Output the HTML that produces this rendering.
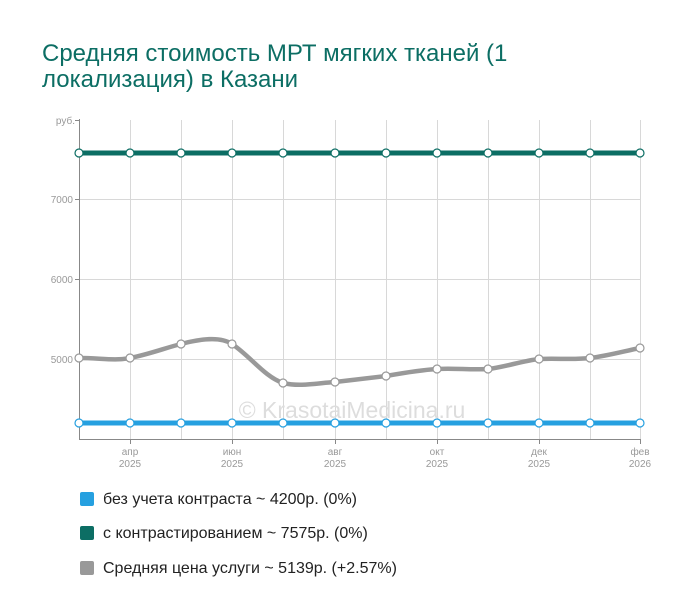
<!DOCTYPE html>
<html><head><meta charset="utf-8"><style>
body{margin:0;background:#fff;width:700px;height:616px;overflow:hidden;font-family:"Liberation Sans",sans-serif}
.t{position:absolute;left:42px;top:41px;font-size:24px;line-height:26px;color:#0c6e64}
.lg{position:absolute;left:80px;font-size:16px;color:#222}
.lg span{display:inline-block;width:14px;height:14px;border-radius:2px;vertical-align:-2px;margin-right:9px}
</style></head><body>
<div class="t">Средняя стоимость МРТ мягких тканей (1<br>локализация) в Казани</div>
<svg width="700" height="616" style="position:absolute;left:0;top:0">
<g stroke="#d8d8d8" stroke-width="1">
<line x1="79" y1="199.5" x2="640" y2="199.5"/><line x1="79" y1="279.5" x2="640" y2="279.5"/><line x1="79" y1="359.5" x2="640" y2="359.5"/>
<line x1="130.5" y1="120" x2="130.5" y2="439"/><line x1="181.5" y1="120" x2="181.5" y2="439"/><line x1="232.5" y1="120" x2="232.5" y2="439"/><line x1="283.5" y1="120" x2="283.5" y2="439"/><line x1="335.5" y1="120" x2="335.5" y2="439"/><line x1="386.5" y1="120" x2="386.5" y2="439"/><line x1="437.5" y1="120" x2="437.5" y2="439"/><line x1="488.5" y1="120" x2="488.5" y2="439"/><line x1="539.5" y1="120" x2="539.5" y2="439"/><line x1="590.5" y1="120" x2="590.5" y2="439"/><line x1="640.5" y1="120" x2="640.5" y2="439"/>
</g>
<g stroke="#888" stroke-width="1">
<line x1="79.5" y1="119" x2="79.5" y2="439"/><line x1="79" y1="439.5" x2="641" y2="439.5"/>
<line x1="75" y1="120.5" x2="80" y2="120.5"/><line x1="75" y1="199.5" x2="80" y2="199.5"/><line x1="75" y1="279.5" x2="80" y2="279.5"/><line x1="75" y1="359.5" x2="80" y2="359.5"/>
<line x1="130.5" y1="439" x2="130.5" y2="444"/><line x1="232.5" y1="439" x2="232.5" y2="444"/><line x1="335.5" y1="439" x2="335.5" y2="444"/><line x1="437.5" y1="439" x2="437.5" y2="444"/><line x1="539.5" y1="439" x2="539.5" y2="444"/><line x1="640.5" y1="439" x2="640.5" y2="444"/>
</g>
<g font-size="10" fill="#999" text-anchor="end">
<text x="75" y="124">руб.</text><text x="73" y="203">7000</text><text x="73" y="283">6000</text><text x="73" y="363">5000</text>
</g>
<g font-size="10" fill="#999" text-anchor="middle">
<text x="130" y="455">апр</text><text x="130" y="467">2025</text>
<text x="232" y="455">июн</text><text x="232" y="467">2025</text>
<text x="335" y="455">авг</text><text x="335" y="467">2025</text>
<text x="437" y="455">окт</text><text x="437" y="467">2025</text>
<text x="539" y="455">дек</text><text x="539" y="467">2025</text>
<text x="640" y="455">фев</text><text x="640" y="467">2026</text>
</g>
<text x="352" y="418" font-size="23" fill="#ddd" text-anchor="middle">© KrasotaiMedicina.ru</text>
<line x1="79" y1="153" x2="640" y2="153" stroke="#0c6e64" stroke-width="5"/>
<line x1="79" y1="423" x2="640" y2="423" stroke="#26a0e0" stroke-width="5"/>
<path d="M79,358 C100,358 115,361 130,358 C150,354 165,348 181,344 C200,339 220,336 232,344 C250,356 265,377 283,383 C300,387 318,383 335,382 C352,380 370,378 386,376 C403,373 420,370 437,369 C455,368 470,370 488,369 C505,367 522,361 539,359 C556,358 573,360 590,358 C607,356 625,351 640,348" fill="none" stroke="#999" stroke-width="4.5"/>
<g fill="#fff" stroke-width="1.2">
<g stroke="#0c6e64"><circle cx="79" cy="153" r="4"/><circle cx="130" cy="153" r="4"/><circle cx="181" cy="153" r="4"/><circle cx="232" cy="153" r="4"/><circle cx="283" cy="153" r="4"/><circle cx="335" cy="153" r="4"/><circle cx="386" cy="153" r="4"/><circle cx="437" cy="153" r="4"/><circle cx="488" cy="153" r="4"/><circle cx="539" cy="153" r="4"/><circle cx="590" cy="153" r="4"/><circle cx="640" cy="153" r="4"/></g>
<g stroke="#26a0e0"><circle cx="79" cy="423" r="4"/><circle cx="130" cy="423" r="4"/><circle cx="181" cy="423" r="4"/><circle cx="232" cy="423" r="4"/><circle cx="283" cy="423" r="4"/><circle cx="335" cy="423" r="4"/><circle cx="386" cy="423" r="4"/><circle cx="437" cy="423" r="4"/><circle cx="488" cy="423" r="4"/><circle cx="539" cy="423" r="4"/><circle cx="590" cy="423" r="4"/><circle cx="640" cy="423" r="4"/></g>
<g stroke="#999"><circle cx="79" cy="358" r="4"/><circle cx="130" cy="358" r="4"/><circle cx="181" cy="344" r="4"/><circle cx="232" cy="344" r="4"/><circle cx="283" cy="383" r="4"/><circle cx="335" cy="382" r="4"/><circle cx="386" cy="376" r="4"/><circle cx="437" cy="369" r="4"/><circle cx="488" cy="369" r="4"/><circle cx="539" cy="359" r="4"/><circle cx="590" cy="358" r="4"/><circle cx="640" cy="348" r="4"/></g>
</g>
</svg>
<div class="lg" style="top:491px"><span style="background:#26a0e0"></span>без учета контраста ~ 4200р. (0%)</div>
<div class="lg" style="top:525px"><span style="background:#0c6e64"></span>с контрастированием ~ 7575р. (0%)</div>
<div class="lg" style="top:560px"><span style="background:#999"></span>Средняя цена услуги ~ 5139р. (+2.57%)</div>
</body></html>
